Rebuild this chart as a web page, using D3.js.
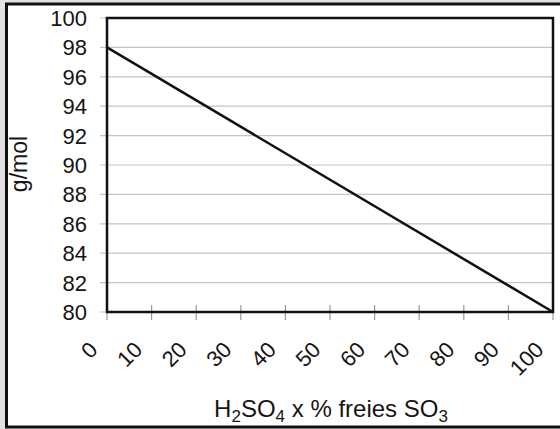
<!DOCTYPE html>
<html lang="de">
<head>
    <meta charset="UTF-8">
    <title>g/mol Oleum</title>
    <script src="https://d3js.org/d3.v7.min.js"></script>
    <style>
        body {
            margin: 0;
            background: #e2e2e2;
            font-family: "Liberation Sans", Arial, sans-serif;
        }
        svg {
            display: block;
        }
        text {
            fill: #151515;
        }
    </style>
</head>
<body>
<div id="container"></div>
<script>
    // data
    const xTicks = [0, 10, 20, 30, 40, 50, 60, 70, 80, 90, 100];
    const yTicks = [80, 82, 84, 86, 88, 90, 92, 94, 96, 98, 100];
    const freeSO3 = [0, 100];
    const molarMass = [98, 80];
    const yTitle = "g/mol";

    const width = 560, height = 429;
    const plotLeft = 107, plotTop = 18, plotRight = 553, plotBottom = 312;

    const svg = d3.select('#container').append('svg')
        .attr('width', width)
        .attr('height', height);

    // white panel with black frame (right side runs off the image)
    svg.append('rect')
        .attr('x', 6.5).attr('y', 4)
        .attr('width', 600).attr('height', 423)
        .attr('fill', '#fff')
        .attr('stroke', '#111')
        .attr('stroke-width', 3);

    const x = d3.scaleLinear().domain([0, 100]).range([plotLeft, plotRight]);
    const y = d3.scaleLinear().domain([80, 100]).range([plotBottom, plotTop]);

    // gridlines
    svg.append('g')
        .selectAll('line')
        .data(yTicks)
        .enter()
        .append('line')
        .attr('x1', plotLeft - 7)
        .attr('x2', plotRight)
        .attr('y1', d => y(d))
        .attr('y2', d => y(d))
        .attr('stroke', '#c4c4c4')
        .attr('stroke-width', 1.2);

    // y axis labels
    svg.append('g')
        .selectAll('text')
        .data(yTicks)
        .enter()
        .append('text')
        .attr('x', 87)
        .attr('y', d => y(d))
        .attr('dy', '0.36em')
        .attr('text-anchor', 'end')
        .style('font-size', '22px')
        .text(d => d);

    // x ticks crossing the axis
    svg.append('g')
        .selectAll('line')
        .data(xTicks)
        .enter()
        .append('line')
        .attr('x1', d => x(d))
        .attr('x2', d => x(d))
        .attr('y1', plotBottom - 7)
        .attr('y2', plotBottom + 8)
        .attr('stroke', '#9a9a9a')
        .attr('stroke-width', 1.2);

    // x labels rotated
    svg.append('g')
        .selectAll('text')
        .data(xTicks)
        .enter()
        .append('text')
        .attr('transform', d => 'translate(' + (x(d) - 8) + ',351) rotate(-45)')
        .attr('text-anchor', 'end')
        .style('font-size', '22px')
        .text(d => d);

    // plot frame
    svg.append('rect')
        .attr('x', plotLeft).attr('y', plotTop)
        .attr('width', plotRight - plotLeft).attr('height', plotBottom - plotTop)
        .attr('fill', 'none')
        .attr('stroke', '#111')
        .attr('stroke-width', 2.5);

    // the line
    const pts = freeSO3.map((v, i) => [v, molarMass[i]]);
    svg.append('path')
        .datum(pts)
        .attr('d', d3.line().x(d => x(d[0])).y(d => y(d[1])))
        .attr('fill', 'none')
        .attr('stroke', '#111')
        .attr('stroke-width', 2.5);

    // axis titles
    svg.append('text')
        .attr('transform', 'translate(27,164) rotate(-90)')
        .attr('text-anchor', 'middle')
        .style('font-size', '23px')
        .text(yTitle);

    const xt = svg.append('text')
        .attr('x', 331)
        .attr('y', 417)
        .attr('text-anchor', 'middle')
        .style('font-size', '24px');
    xt.append('tspan').text('H');
    xt.append('tspan').attr('dy', 5).style('font-size', '17px').text('2');
    xt.append('tspan').attr('dy', -5).text('SO');
    xt.append('tspan').attr('dy', 5).style('font-size', '17px').text('4');
    xt.append('tspan').attr('dy', -5).text(' x % freies SO');
    xt.append('tspan').attr('dy', 5).style('font-size', '17px').text('3');
</script>
</body>
</html>
